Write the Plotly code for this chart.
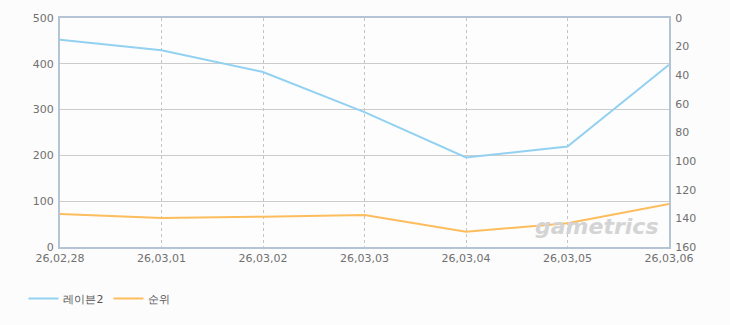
import plotly.graph_objects as go

dates = ["26,02,28", "26,03,01", "26,03,02", "26,03,03", "26,03,04", "26,03,05", "26,03,06"]
raven2 = [452.6, 429.5, 382.1, 294.6, 195.5, 219.2, 398.1]
rank = [137.0, 139.8, 138.8, 137.7, 149.4, 143.4, 129.9]
left_ticks = [0, 100, 200, 300, 400, 500]
right_ticks = [0, 20, 40, 60, 80, 100, 120, 140, 160]

font = dict(family="DejaVu Sans, Liberation Sans, sans-serif", size=11, color="#707070")
frame = "#b4c4d4"

fig = go.Figure()
fig.add_trace(go.Scatter(x=dates, y=raven2, name="레이븐2", mode="lines",
                         line=dict(color="#93d1f1", width=2)))
fig.add_trace(go.Scatter(x=dates, y=rank, name="순위", mode="lines", yaxis="y2",
                         line=dict(color="#fdbd5c", width=2)))

fig.update_layout(
    width=730, height=325,
    margin=dict(l=60, r=61, t=16, b=77),
    paper_bgcolor="#fcfcfc",
    plot_bgcolor="#fdfdfd",
    font=font,
    showlegend=True,
    legend=dict(orientation="h", x=-0.06, y=-0.225, xanchor="left", yanchor="middle",
                font=dict(size=11, color="#555555"), itemwidth=30, bgcolor="rgba(0,0,0,0)",
                tracegroupgap=0),
    xaxis=dict(type="category", range=[0, 6], showgrid=True, gridcolor="#c4c4c4",
               griddash="3px,3px", gridwidth=1, showline=True, linecolor=frame, linewidth=2,
               mirror=True, ticks="", tickfont=font, zeroline=False, fixedrange=True),
    yaxis=dict(range=[0, 500], tickvals=left_ticks, showgrid=True, gridcolor="#cccccc",
               gridwidth=1, showline=True, linecolor=frame, linewidth=2, mirror=True,
               ticks="", tickfont=font, zeroline=False, ticklabelstandoff=2),
    yaxis2=dict(range=[160, 0], tickvals=right_ticks, overlaying="y", side="right",
                showgrid=False, showline=True, linecolor=frame, linewidth=2,
                ticks="", tickfont=font, zeroline=False, ticklabelstandoff=2),
)

fig.add_annotation(text="<b><i>gametrics</i></b>", xref="paper", yref="paper",
                   x=0.985, y=0.09, xanchor="right", yanchor="middle", showarrow=False,
                   font=dict(family="DejaVu Sans, sans-serif", size=22, color="#d4d4d4"))

fig.write_html("out.html")
